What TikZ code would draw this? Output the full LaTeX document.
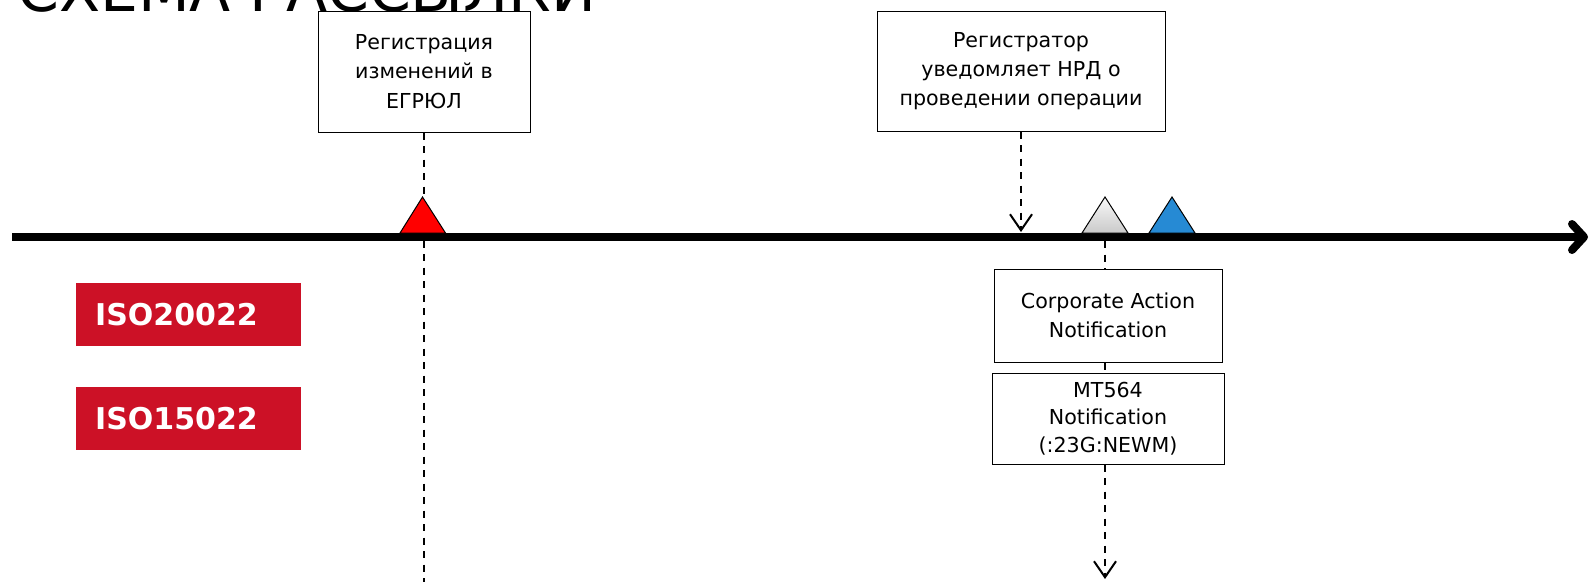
\documentclass[tikz,border=0pt]{standalone}
\usepackage{fontspec}
\setmainfont{DejaVu Sans}
\usetikzlibrary{arrows.meta}
\definecolor{isored}{RGB}{204,17,38}
\definecolor{triblue}{RGB}{38,138,212}
\definecolor{trired}{RGB}{255,0,0}
\begin{document}
\begin{tikzpicture}[x=1pt,y=-1pt,
  box/.style={draw=black, line width=1pt, fill=white, align=center, inner sep=0pt,
    font=\fontsize{20.6}{29.3}\selectfont},
  isobox/.style={fill=isored, text=white, font=\fontsize{30}{36}\bfseries\selectfont,
    text width=187pt, align=left, inner xsep=19pt, inner ysep=0pt,
    minimum height=63pt, anchor=north west},
  dashline/.style={line width=2pt, dash pattern=on 7pt off 6.5pt},
  barbtip/.style={-{Straight Barb[length=16pt,width=22pt]}},
  tri/.style={draw=black, line width=1pt, line join=miter}
]
\useasboundingbox (0,0) rectangle (1594,582);
\begin{scope}
  \clip (0,0) rectangle (1594,582);
  \node[anchor=base west, inner sep=0pt, font=\fontsize{60}{62}\selectfont] (title) at (17,11.5) {СХЕМА РАССЫЛКИ};
\end{scope}

% boxes
\node[box, minimum width=212pt, minimum height=121pt] (b1) at (424,71.5) {Регистрация\\изменений в\\ЕГРЮЛ};
\node[box, minimum width=288pt, minimum height=120pt] (b2) at (1021,71) {Регистратор\\уведомляет НРД о\\проведении операции};
\node[box, minimum width=228pt, minimum height=93pt] (b3) at (1108,315.5) {Corporate Action\\Notification};
\node[box, minimum width=232pt, minimum height=91pt, font=\fontsize{20.6}{27.5}\selectfont] (b4) at (1108,418.5) {MT564\\Notification\\(:23G:NEWM)};

\node[isobox] (iso1) at (76,283) {ISO20022};
\node[isobox] (iso2) at (76,387) {ISO15022};

% coordinates
\coordinate (axisL) at (12,237);
\coordinate (axisR) at (1588,237);
\coordinate (d1end) at (424,582);
\coordinate (a2) at (1021,232);
\coordinate (g1) at (1105,241);
\coordinate (g4end) at (1105,579);

% dashed connectors
\draw[dashline] (b1.south) -- (d1end);
\draw[dashline, barbtip] (b2.south) -- (a2);
\draw[dashline] (g1) -- (g1 |- b3.north);
\draw[dashline] (g1 |- b3.south) -- (g1 |- b4.north);
\draw[dashline, barbtip] (g1 |- b4.south) -- (g4end);

% time axis
\draw[line width=8pt, -{Straight Barb[round,length=12pt,width=26pt]}] (axisL) -- (axisR);

% triangles
\path[tri, fill=trired] (400,233) -- (422.5,197) -- (445.5,233) -- cycle;
\path[tri, top color=gray!5, bottom color=gray!42] (1082,233) -- (1105,197) -- (1128,233) -- cycle;
\path[tri, fill=triblue] (1149,233) -- (1172,197) -- (1195,233) -- cycle;
\end{tikzpicture}
\end{document}
